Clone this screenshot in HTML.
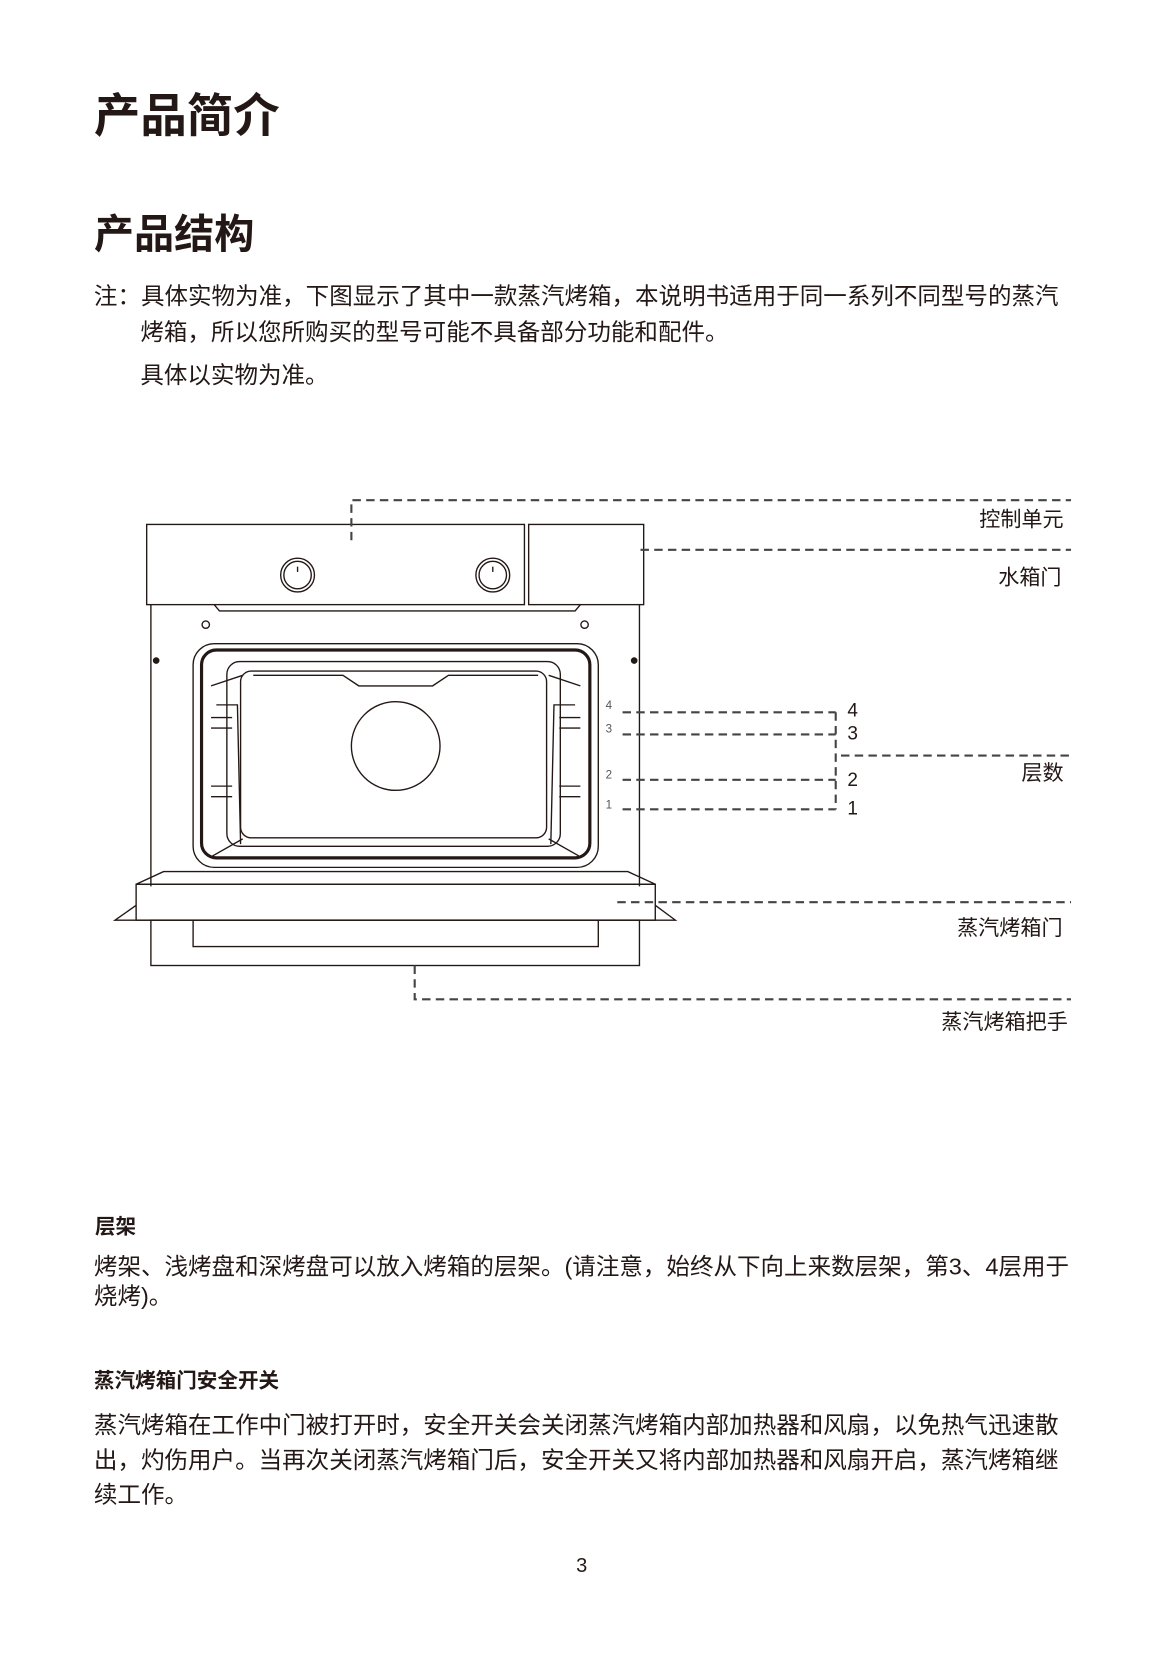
<!DOCTYPE html>
<html><head><meta charset="utf-8"><style>
html,body{margin:0;padding:0;background:#fff;width:1166px;height:1654px;overflow:hidden}
#w{position:absolute;left:0;top:0;width:1105px;height:1568px;transform:scale(1.0552);transform-origin:0 0;color:#231815;font-family:"Liberation Sans","Noto Sans CJK SC",sans-serif}
.t{position:absolute;white-space:nowrap;line-height:1}
.h1{font-size:44px;font-weight:bold}
.h2{font-size:38px;font-weight:bold}
.p{font-size:22.3px}
.b{font-size:19.5px;font-weight:bold}
.l{font-size:20px}
</style></head><body><div id="w">
<div class="t h1" style="left:89px;top:89px">产品简介</div>
<div class="t h2" style="left:89px;top:204px">产品结构</div>
<div class="t p" style="left:89px;top:270px">注：具体实物为准，下图显示了其中一款蒸汽烤箱，本说明书适用于同一系列不同型号的蒸汽</div>
<div class="t p" style="left:133px;top:304px">烤箱，所以您所购买的型号可能不具备部分功能和配件。</div>
<div class="t p" style="left:133px;top:345px">具体以实物为准。</div>

<svg style="position:absolute;left:0;top:0" width="1105" height="1050" viewBox="0 0 1105 1050">
<g fill="none" stroke="#231815" stroke-width="1.3">
<rect x="139" y="497" width="358" height="76"/>
<rect x="501" y="497" width="109" height="76"/>
<circle cx="282" cy="545" r="16"/><circle cx="282" cy="545" r="13"/>
<circle cx="467" cy="545" r="16"/><circle cx="467" cy="545" r="13"/>
<line x1="282" y1="537" x2="282" y2="542"/><line x1="467" y1="537" x2="467" y2="542"/>
<path d="M203 573 L208 579 L545 579 L550 573"/>
<path d="M143 573 L143 840 M606 573 L606 840"/>
<circle cx="195" cy="592" r="3.5"/><circle cx="554" cy="592" r="3.5"/>
<circle cx="148" cy="626" r="2.5" fill="#231815"/><circle cx="601" cy="626" r="2.5" fill="#231815"/>
<rect x="183" y="610" width="384" height="212" rx="20"/>
<rect x="191" y="616" width="368" height="197" rx="14" stroke-width="3"/>
<rect x="215" y="627" width="316" height="175" rx="12"/>
<rect x="228" y="636" width="290" height="158" rx="10"/>
<path d="M240 640 L325 640 L340 650 L410 650 L425 640 L510 640"/>
<circle cx="375" cy="707" r="42"/>
<path d="M200 650 L230 640 M550 650 L520 640 M200 812 L230 795 M550 812 L520 795"/>
<path d="M205 668 L225 668 L228 800 M545 668 L525 668 L522 800"/>
<path d="M200 680 h20 M200 690 h20 M200 745 h20 M200 755 h20 M530 680 h20 M530 690 h20 M530 745 h20 M530 755 h20"/>
<path d="M155 826 L595 826 L621 838 L129 838 Z"/>
<rect x="129" y="838" width="492" height="34"/>
<path d="M129 858 L109 872 L640 872 L621 858"/>
<rect x="143" y="872" width="463" height="43"/>
<path d="M183 872 L183 897 L567 897 L567 872"/>
</g>
<g fill="none" stroke="#444" stroke-width="2" stroke-dasharray="8,5">
<path d="M333 512 L333 474 L1015 474"/>
<path d="M607 521 L1015 521"/>
<path d="M590 675 L792 675 M590 696 L792 696 M590 739 L792 739 M590 767 L792 767 M792 675 L792 767"/>
<path d="M797 716 L1015 716"/>
<path d="M585 855 L1015 855"/>
<path d="M393 915 L393 947 L1015 947"/>
</g>
<g font-family="Liberation Sans" font-size="11" fill="#555">
<text x="574" y="672">4</text><text x="574" y="694">3</text><text x="574" y="738">2</text><text x="574" y="766">1</text>
</g>
</svg>
<div class="t l" style="left:928px;top:483px">控制单元</div>
<div class="t l" style="left:946px;top:538px">水箱门</div>
<div class="t l" style="left:803px;top:664px;font-size:18px">4</div>
<div class="t l" style="left:803px;top:686px;font-size:18px">3</div>
<div class="t l" style="left:803px;top:730px;font-size:18px">2</div>
<div class="t l" style="left:803px;top:757px;font-size:18px">1</div>
<div class="t l" style="left:968px;top:723px">层数</div>
<div class="t l" style="left:907px;top:870px">蒸汽烤箱门</div>
<div class="t l" style="left:892px;top:959px">蒸汽烤箱把手</div>

<div class="t b" style="left:90px;top:1154px">层架</div>
<div class="t p" style="left:89px;top:1190px">烤架、浅烤盘和深烤盘可以放入烤箱的层架。(请注意，始终从下向上来数层架，第3、4层用于</div>
<div class="t p" style="left:89px;top:1218px">烧烤)。</div>
<div class="t b" style="left:89px;top:1300px">蒸汽烤箱门安全开关</div>
<div class="t p" style="left:89px;top:1340px">蒸汽烤箱在工作中门被打开时，安全开关会关闭蒸汽烤箱内部加热器和风扇，以免热气迅速散</div>
<div class="t p" style="left:89px;top:1373px">出，灼伤用户。当再次关闭蒸汽烤箱门后，安全开关又将内部加热器和风扇开启，蒸汽烤箱继</div>
<div class="t p" style="left:89px;top:1406px">续工作。</div>
<div class="t" style="left:546px;top:1475px;font-size:19px">3</div>
</div></body></html>
